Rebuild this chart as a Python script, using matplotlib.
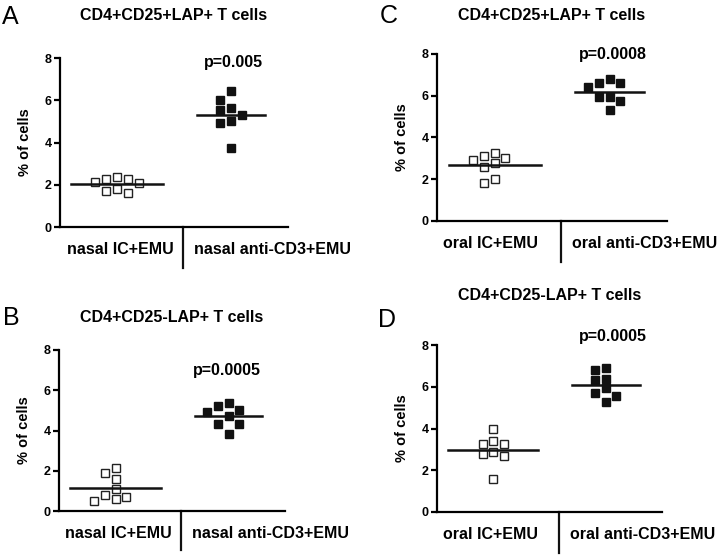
import matplotlib
matplotlib.use("Agg")
import matplotlib.pyplot as plt
import numpy as np

plt.rcParams['font.family'] = ['Liberation Sans', 'DejaVu Sans']

# values (% of cells), 8 mice per group
nasal_ic_a = [2.35, 2.25, 2.14, 2.25, 2.09, 1.82, 1.62, 1.71]
nasal_cd3_a = [6.42, 6.02, 5.55, 5.63, 5.31, 5.04, 4.91, 3.72]
nasal_ic_b = [2.12, 1.90, 1.57, 1.08, 0.68, 0.51, 0.60, 0.79]
nasal_cd3_b = [5.23, 4.90, 5.02, 5.35, 4.72, 4.32, 4.32, 3.82]
oral_ic_c = [3.01, 2.80, 3.12, 3.28, 2.90, 2.58, 1.81, 2.00]
oral_cd3_c = [6.61, 6.40, 6.61, 6.80, 5.92, 5.92, 5.73, 5.30]
oral_ic_d = [4.00, 3.39, 3.25, 3.28, 2.80, 2.86, 2.67, 1.60]
oral_cd3_d = [6.91, 6.80, 6.32, 6.37, 5.92, 5.71, 5.57, 5.25]

panel_letters = ['A', 'B', 'C', 'D']
titles = ['CD4+CD25+LAP+ T cells', 'CD4+CD25-LAP+ T cells',
          'CD4+CD25+LAP+ T cells', 'CD4+CD25-LAP+ T cells']
group_labels = [['nasal IC+EMU', 'nasal anti-CD3+EMU'],
                ['nasal IC+EMU', 'nasal anti-CD3+EMU'],
                ['oral IC+EMU', 'oral anti-CD3+EMU'],
                ['oral IC+EMU', 'oral anti-CD3+EMU']]
p_values = ['p=0.005', 'p=0.0005', 'p=0.0008', 'p=0.0005']
y_ticks = [0, 2, 4, 6, 8]

panel_data = [[nasal_ic_a, nasal_cd3_a], [nasal_ic_b, nasal_cd3_b],
              [oral_ic_c, oral_cd3_c], [oral_ic_d, oral_cd3_d]]

W, H = 723, 560

# layout in pixels: axes left, top, right, bottom / title y / p text pos / letter pos
axes_px = {'A': (60, 58, 288, 227), 'B': (59, 350, 285, 511),
           'C': (437, 54, 667, 221), 'D': (437, 345, 662, 512)}
title_y = {'A': 16, 'B': 317, 'C': 16, 'D': 295}
p_pos = {'A': (233, 63), 'B': (227, 370), 'C': (613, 54), 'D': (613, 337)}
letter_pos = {'A': (2, 17), 'B': (3, 318), 'C': (380, 16), 'D': (378, 320)}
label_gap = {'A': -7, 'B': -7, 'C': -17, 'D': -15}


def swarm_offsets(values, step, y_gap):
    # simple beeswarm: put each point in the nearest free column
    offsets = [0.0] * len(values)
    placed = []
    order = np.argsort(values)[::-1]
    cands = [0]
    for k in range(1, 8):
        cands += [-k, k]
    for i in order:
        for c in cands:
            off = c * step
            ok = True
            for j in placed:
                if abs(off - offsets[j]) < step * 0.9 and abs(values[i] - values[j]) < y_gap:
                    ok = False
                    break
            if ok:
                offsets[i] = off
                break
        placed.append(i)
    return offsets


def draw_panel(fig, letter, title, labels, groups, p_text):
    l, t, r, b = axes_px[letter]
    ax = fig.add_axes([l / W, 1 - b / H, (r - l) / W, (b - t) / H])

    for gi, vals in enumerate(groups):
        pos = gi + 1
        offs = swarm_offsets(vals, 0.095, 0.45)
        xs = [pos + o for o in offs]
        if gi == 0:
            ax.plot(xs, vals, 's', ms=5.6, mfc='white', mec='#222222', mew=1.0,
                    clip_on=False, zorder=3)
            half = 0.4
        else:
            ax.plot(xs, vals, 's', ms=5.6, mfc='#111111', mec='#111111', mew=1.0,
                    clip_on=False, zorder=3)
            half = 0.3
        m = np.mean(vals)
        ax.plot([pos - half, pos + half], [m, m], color='#111111', lw=1.8, zorder=4)

    ax.set_xlim(0.5, 2.5)
    ax.set_ylim(0, 8)
    ax.set_yticks(y_ticks)
    ax.set_xticks([])
    for s in ['top', 'right']:
        ax.spines[s].set_visible(False)
    ax.spines['left'].set_linewidth(1.6)
    ax.spines['bottom'].set_linewidth(1.6)
    ax.tick_params(axis='y', width=1.6, length=4, labelsize=9, pad=2)
    for lab in ax.get_yticklabels():
        lab.set_fontweight('bold')
    ax.set_ylabel('% of cells', fontsize=10.5, fontweight='bold', labelpad=9)

    # divider between the two groups
    div = 1.58
    ax.plot([div, div], [0, -0.245], color='#111111', lw=1.6,
            transform=ax.get_xaxis_transform(), clip_on=False)
    ax.annotate(labels[0], xy=(div, 0), xycoords=ax.get_xaxis_transform(),
                xytext=(label_gap[letter], -16), textcoords='offset points',
                ha='right', va='center', fontsize=11.5, fontweight='bold')
    ax.annotate(labels[1], xy=(div, 0), xycoords=ax.get_xaxis_transform(),
                xytext=(8, -16), textcoords='offset points', ha='left', va='center',
                fontsize=11.5, fontweight='bold')

    px, py = p_pos[letter]
    fig.text(px / W, 1 - py / H, p_text, ha='center', va='center',
             fontsize=11.5, fontweight='bold')
    fig.text((l + r) / 2 / W, 1 - title_y[letter] / H, title, ha='center', va='center',
             fontsize=11.5, fontweight='bold')
    lx, ly = letter_pos[letter]
    fig.text(lx / W, 1 - ly / H, letter, ha='left', va='center', fontsize=18)


fig = plt.figure(figsize=(W / 100, H / 100), dpi=100)
for i in range(4):
    draw_panel(fig, panel_letters[i], titles[i], group_labels[i], panel_data[i], p_values[i])

fig.savefig('out.png', dpi=100, facecolor='white')
